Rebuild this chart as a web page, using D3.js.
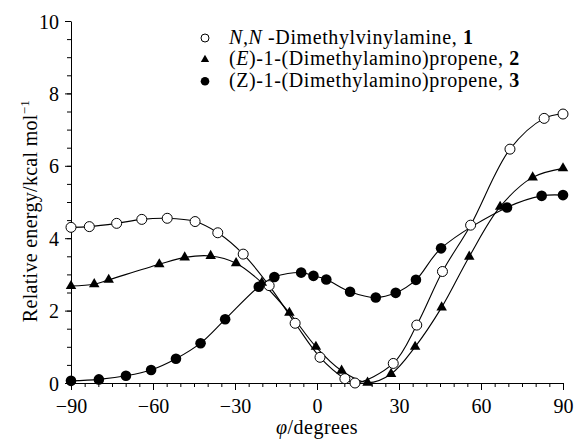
<!DOCTYPE html>
<html>
<head>
<meta charset="utf-8">
<script src="https://cdn.jsdelivr.net/npm/d3@7"></script>
<style>
  body { margin: 0; background: #fff; }
  svg text { font-family: "Liberation Serif", "Times New Roman", serif; fill: #000; }
</style>
</head>
<body>
<div id="chart"></div>
<script>
// data: phi (degrees) and relative energy (kcal/mol)
const phi1 = [-90, -83.3, -73.3, -64.1, -54.8, -44.6, -36.3, -27, -17.5, -8, 1.1, 10.2, 13.9, 27.9, 36.5, 45.9, 56.2, 70.6, 83.1, 90];
const e1   = [4.30, 4.32, 4.41, 4.52, 4.55, 4.46, 4.15, 3.56, 2.69, 1.65, 0.71, 0.12, 0.0, 0.54, 1.60, 3.08, 4.36, 6.46, 7.31, 7.43];

const phi2 = [-90, -81.5, -76.2, -57.7, -48.4, -38.9, -29.6, -20.2, -10.1, -0.4, 9.0, 18.5, 27.1, 35.9, 45.6, 55.7, 67.0, 78.9, 90];
const e2   = [2.68, 2.73, 2.85, 3.28, 3.47, 3.51, 3.31, 2.77, 1.94, 1.00, 0.34, 0.01, 0.25, 1.00, 2.09, 3.49, 4.87, 5.68, 5.93];

const phi3 = [-90, -79.8, -69.9, -60.7, -51.6, -42.6, -33.6, -21.3, -15.6, -5.8, -1.3, 3.4, 12.1, 21.5, 28.8, 36.2, 45.4, 69.5, 82.2, 90];
const e3   = [0.06, 0.10, 0.20, 0.36, 0.67, 1.10, 1.76, 2.66, 2.93, 3.05, 2.96, 2.86, 2.52, 2.36, 2.49, 2.85, 3.72, 4.85, 5.17, 5.19];

const xTicks = [-90, -60, -30, 0, 30, 60, 90];
const yTicks = [0, 2, 4, 6, 8, 10];

const width = 574, height = 444;
const svg = d3.select("#chart").append("svg")
    .attr("width", width).attr("height", height);

const x = d3.scaleLinear().domain([-90, 90]).range([71, 563]);
const y = d3.scaleLinear().domain([0, 10]).range([383, 21]);

// minor ticks
const xMinor = d3.range(-90, 90.1, 5);
const yMinor = d3.range(0, 10.01, 0.5);

svg.append("g").attr("transform", `translate(0,${y(0)})`)
    .call(d3.axisBottom(x).tickValues(xMinor).tickSize(4).tickFormat(""))
    .call(g => g.select(".domain").remove());
svg.append("g").attr("transform", `translate(${x(-90)},0)`)
    .call(d3.axisLeft(y).tickValues(yMinor).tickSize(4).tickFormat(""))
    .call(g => g.select(".domain").remove());

const xAxis = svg.append("g").attr("transform", `translate(0,${y(0)})`)
    .call(d3.axisBottom(x).tickValues(xTicks).tickSize(7).tickSizeOuter(0)
        .tickFormat(d => d < 0 ? "\u2212" + Math.abs(d) : d));
xAxis.selectAll("text").attr("font-size", 20).attr("dy", "1em");

const yAxis = svg.append("g").attr("transform", `translate(${x(-90)},0)`)
    .call(d3.axisLeft(y).tickValues(yTicks).tickSize(6).tickSizeOuter(0));
yAxis.selectAll("text").attr("font-size", 20).attr("dx", "-3px").attr("dy", "0.35em");

svg.selectAll("g").attr("font-family", null).attr("font-size", null);
svg.selectAll(".domain, .tick line").attr("stroke", "#000").attr("stroke-width", 1);

// lines
const line = d3.line().x(d => x(d[0])).y(d => y(d[1])).curve(d3.curveCatmullRom.alpha(0.5));
const series = [
  { p: phi1, e: e1, type: "open" },
  { p: phi2, e: e2, type: "tri" },
  { p: phi3, e: e3, type: "dot" }
];

series.forEach(s => {
  const pts = s.p.map((v, i) => [v, s.e[i]]);
  svg.append("path").datum(pts)
      .attr("d", line)
      .attr("fill", "none").attr("stroke", "#000").attr("stroke-width", 1.1);
});

const tri = d3.symbol().type(d3.symbolTriangle);

function drawMarker(g, type, cx, cy, big) {
  if (type === "open") {
    g.append("circle").attr("cx", cx).attr("cy", cy).attr("r", big ? 5 : 4)
      .attr("fill", "#fff").attr("stroke", "#000").attr("stroke-width", 1);
  } else if (type === "dot") {
    g.append("circle").attr("cx", cx).attr("cy", cy).attr("r", big ? 5.3 : 4.3)
      .attr("fill", "#000");
  } else {
    g.append("path").attr("d", tri.size(big ? 48 : 30)())
      .attr("transform", `translate(${cx},${cy})`).attr("fill", "#000");
  }
}

series.forEach(s => {
  const g = svg.append("g");
  s.p.forEach((v, i) => drawMarker(g, s.type, x(v), y(s.e[i]), true));
});

// legend
const legend = [
  { type: "open", parts: [["N,N", "italic"], [" -Dimethylvinylamine, ", ""], ["1", "bold"]] },
  { type: "tri",  parts: [["(", ""], ["E", "italic"], [")-1-(Dimethylamino)propene, ", ""], ["2", "bold"]] },
  { type: "dot",  parts: [["(Z)-1-(Dimethylamino)propene, ", ""], ["3", "bold"]] }
];
legend.forEach((l, i) => {
  const by = 43.5 + i * 21.6;
  drawMarker(svg, l.type, 205, by - 5.5, false);
  const t = svg.append("text").attr("x", 229).attr("y", by)
      .attr("font-size", 20).attr("letter-spacing", 0.6);
  l.parts.forEach(p => {
    const ts = t.append("tspan").text(p[0]);
    if (p[1] === "italic") ts.attr("font-style", "italic");
    if (p[1] === "bold") ts.attr("font-weight", "bold");
  });
});

// axis titles
const xl = svg.append("text").attr("x", x(0)).attr("y", 434)
    .attr("text-anchor", "middle").attr("font-size", 20).attr("letter-spacing", 0.5);
xl.append("tspan").attr("font-style", "italic").text("\u03C6");
xl.append("tspan").text("/degrees");

const yl = svg.append("text")
    .attr("transform", `translate(37,211) rotate(-90)`)
    .attr("text-anchor", "middle").attr("font-size", 20).attr("letter-spacing", 0.3);
yl.append("tspan").text("Relative energy/kcal mol");
yl.append("tspan").attr("font-size", 13).attr("dy", -8).text("\u22121");
</script>
</body>
</html>
